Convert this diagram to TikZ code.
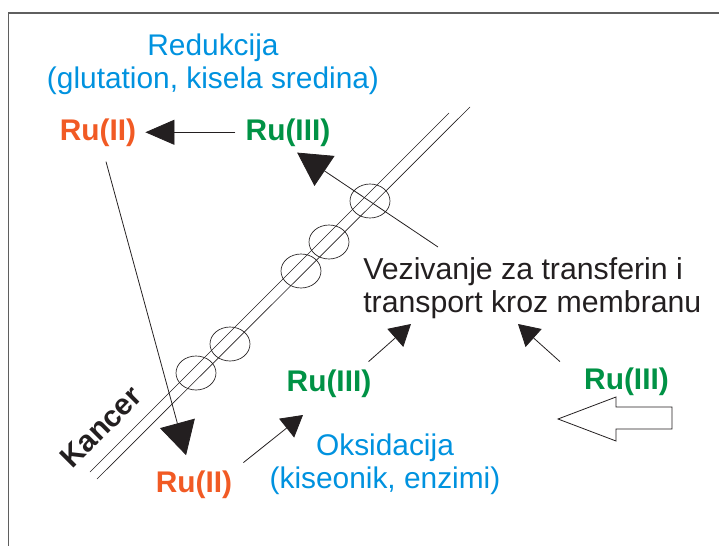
\documentclass[tikz,border=0pt]{standalone}
\usepackage{fontspec}
\setmainfont{Liberation Sans}
\usetikzlibrary{arrows.meta}

\definecolor{inkc}{RGB}{35,31,32}
\definecolor{procblue}{RGB}{0,146,223}
\definecolor{ruorange}{RGB}{241,90,36}
\definecolor{rugreen}{RGB}{0,146,69}
\definecolor{framec}{RGB}{95,95,95}

\tikzset{
	ln/.style={draw=inkc, line width=0.6pt},
	membr/.style={draw=inkc, line width=0.5pt},
	tipbig/.style={ln, -{Triangle[length=24.75pt, width=27pt]}},
	tipmid/.style={ln, -{Triangle[length=21.75pt, width=18.75pt]}},
	tipsml/.style={ln, -{Triangle[length=15.75pt, width=18pt]}},
	ru/.style={inner sep=0pt, anchor=base, font=\bfseries\fontsize{22.4}{24.5}\selectfont},
	txt/.style={inner sep=0pt, font=\fontsize{22.4}{24.5}\selectfont},
}

\begin{document}
\begin{tikzpicture}[x=0.75pt, y=-0.75pt]
	\useasboundingbox (0,0) rectangle (719,546);
	% frame
	\draw[framec, line width=1.1pt] (8.5,546) -- (8.5,13) -- (719,13);

	% membrane with the channels
	\draw[membr] (90,472) -- (449,113);
	\draw[membr] (97,479) -- (470,107);
	\foreach \cx/\cy in {370/201, 329/242, 301/271, 230/344, 196/373}
		\draw[membr] (\cx,\cy) ellipse (15pt and 12.75pt);
	\node[inner sep=0pt, text=inkc, rotate=45, font=\bfseries\fontsize{22.4}{24.5}\selectfont] (kancer) at (101,427) {Kancer};

	% labels
	\node[txt, align=center, text=procblue] (redukcija) at (213,64.5) {Redukcija\\(glutation, kisela sredina)};
	\node[txt, align=center, text=procblue] (oksidacija) at (385,464.5) {Oksidacija\\(kiseonik, enzimi)};
	\node[txt, align=left, text=inkc, anchor=north west, font=\fontsize{22.7}{24.75}\selectfont] (vez) at (363,256.9) {Vezivanje za transferin i\\transport kroz membranu};

	\node[ru, text=ruorange] (ru2top) at (98,140) {Ru(II)};
	\node[ru, text=rugreen] (ru3top) at (288,140) {Ru(III)};
	\node[ru, text=ruorange] (ru2bot) at (194,492) {Ru(II)};
	\node[ru, text=rugreen] (ru3mid) at (329,391) {Ru(III)};
	\node[ru, text=rugreen] (ru3right) at (626.5,389) {Ru(III)};

	% free ends
	\coordinate (vline) at ([shift={(75,-9.9)}]vez.north west);
	\coordinate (tvez1) at (411,324);
	\coordinate (tvez2) at (518,324);
	\coordinate (toks) at (303,415);

	% arrows
	\draw[tipmid, shorten <=7.5pt, shorten >=6.75pt] (ru3top.west) -- (ru2top.east);
	\draw[tipbig, shorten <=22.8pt, shorten >=22.6pt] (ru2top.center) -- (ru2bot.center);
	\draw[tipbig, shorten >=8.25pt] (vline) -- (ru3top.south);
	\draw[tipsml] ([shift={(-3,-7.5)}]ru3mid.north east) -- (tvez1);
	\draw[tipsml] ([shift={(-24,-5.5)}]ru3right.north west) -- (tvez2);
	\draw[tipsml] ([shift={(11,-7.5)}]ru2bot.north east) -- (toks);

	% hollow arrow
	\draw[ln, fill=white] (558,419) -- (616,397) -- (616,407) -- (672,407) -- (672,429) -- (616,429) -- (616,441) -- cycle;
\end{tikzpicture}
\end{document}
